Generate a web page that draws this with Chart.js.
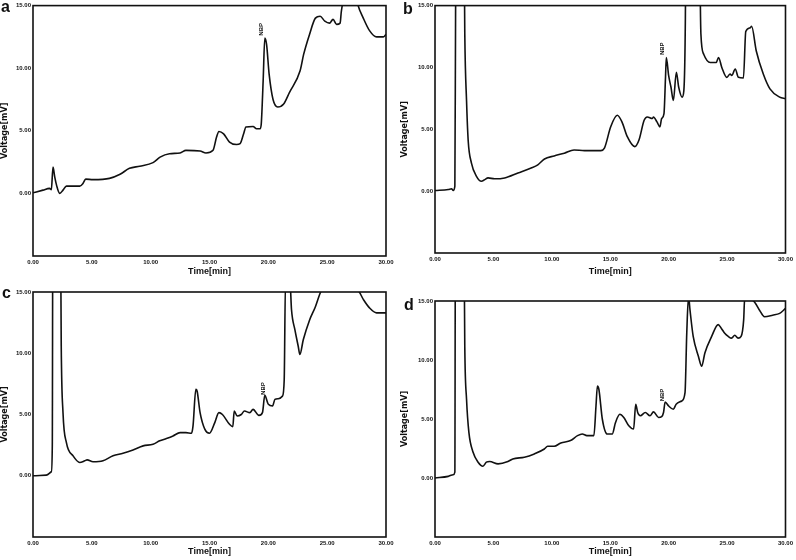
<!DOCTYPE html>
<html>
<head>
<meta charset="utf-8">
<script src="https://cdn.jsdelivr.net/npm/chart.js@4.4.1/dist/chart.umd.min.js"></script>
<style>
html,body{margin:0;padding:0;background:#fff;}
#wrap{position:relative;width:796px;height:560px;overflow:hidden;}
canvas{position:absolute;}
</style>
</head>
<body>
<div id="wrap">
<canvas id="ca" width="398" height="280" style="left:0;top:0"></canvas>
<canvas id="cb" width="398" height="280" style="left:398px;top:0"></canvas>
<canvas id="cc" width="398" height="280" style="left:0;top:280px"></canvas>
<canvas id="cd" width="398" height="280" style="left:398px;top:280px"></canvas>
</div>
<script>
// ---- data ----
const panelLetters = ["a", "b", "c", "d"];
const xTickValues = [0, 5, 10, 15, 20, 25, 30];
const yTickValues = [0, 5, 10, 15];
const xTitle = "Time[min]";
const yTitle = "Voltage[mV]";
const peakLabel = "NBP";

const timeA = [0,0.85,1.4,1.56,1.7,1.85,2.0,2.27,2.55,2.84,3.26,3.97,4.25,4.48,5.1,6.5,7.4,8.2,9.07,10.2,10.8,11.6,12.5,13.0,14.2,14.7,15.3,15.6,15.8,16.2,16.7,17.3,17.6,17.9,18.1,18.7,19.0,19.3,19.4,19.56,19.7,19.85,20.07,20.4,20.8,21.3,21.8,22.7,23.0,23.5,24.0,24.4,24.8,25.2,25.5,25.8,26.1,26.2,26.4,26.8,27.3,27.6,28.07,28.6,29.2,29.77,30];
const voltA = [0.05,0.26,0.4,0.3,2.1,1.3,0.66,0.0,0.26,0.58,0.58,0.58,0.8,1.14,1.1,1.2,1.53,2.0,2.17,2.46,2.9,3.17,3.23,3.44,3.39,3.23,3.44,4.5,4.95,4.76,4.1,3.9,3.97,4.76,5.3,5.34,5.16,5.16,5.56,9.0,12.4,11.9,9.5,7.5,6.9,7.14,8.07,9.8,11.1,12.7,14.0,14.15,13.76,13.6,13.9,13.5,13.6,14.5,15.6,17,16.5,15.1,14.0,13.0,12.5,12.5,12.7];

const timeB = [0,1.14,1.42,1.56,1.7,1.76,1.85,2.4,2.55,2.7,2.84,3.12,3.55,3.97,4.26,4.54,5.1,5.96,7.1,8.23,8.8,9.37,10.2,11.07,11.9,12.8,14.2,14.5,15.04,15.6,16.0,16.46,17.1,17.46,17.9,18.17,18.6,18.7,19.0,19.25,19.4,19.6,19.73,19.8,20.0,20.2,20.4,20.66,20.86,21.15,21.3,21.43,21.5,22.56,22.76,23.0,23.56,24.07,24.27,24.55,24.98,25.26,25.4,25.7,25.97,26.4,26.6,26.97,27.1,27.5,28.1,28.67,29.5,30];
const voltB = [0.05,0.13,0.19,0.05,0.4,14,30,30,12.7,7.3,4.1,2.27,1.2,0.8,0.93,1.07,1.0,1.07,1.47,1.87,2.13,2.6,2.85,3.07,3.33,3.28,3.28,3.47,5.2,6.13,5.6,4.4,3.6,4.13,5.73,6.0,5.87,6.0,5.6,5.2,5.87,6.27,9.2,10.8,9.33,8.4,7.33,9.6,8.4,7.6,8.13,14,25,25,12.7,11.07,10.4,10.4,10.8,10.0,9.2,9.47,9.35,9.87,9.2,9.15,12.9,13.2,13.33,11.33,9.47,8.27,7.6,7.47];

const timeC = [0,1.13,1.56,1.64,1.7,2.27,2.4,2.55,2.84,3.4,3.97,4.4,4.6,5.1,5.95,6.8,7.65,8.5,9.36,10.2,10.77,11.34,11.9,12.5,13.0,13.47,13.6,13.84,13.95,14.2,14.6,15.0,15.45,15.8,16.1,16.7,16.98,17.1,17.35,17.7,17.97,18.43,18.7,19.2,19.5,19.7,20.0,20.36,20.56,20.84,21.2,21.35,21.46,21.83,21.97,22.26,22.54,22.68,22.97,23.5,24.0,24.4,24.5,25.5,26.5,27.64,28.07,28.6,29.2,30];
const voltC = [0,0.05,0.33,2.4,30,30,10.6,5.15,2.7,1.63,1.08,1.22,1.3,1.14,1.22,1.63,1.84,2.11,2.44,2.57,2.85,3.04,3.25,3.52,3.52,3.47,4.07,7.05,6.9,5.15,3.8,3.47,4.34,5.15,5.0,4.2,4.0,5.28,4.88,5.0,5.28,5.15,5.42,4.93,5.15,6.56,5.83,5.7,6.23,6.29,6.5,7.86,16,16,13.55,11.9,10.57,9.9,11.1,12.7,13.8,14.9,15.1,15.6,15.4,15.1,14.4,13.7,13.3,13.3];

const timeD = [0,1.13,1.56,1.7,1.76,2.4,2.55,2.7,2.9,3.26,3.69,4.1,4.4,4.68,5.4,6.24,6.66,7.65,8.5,9.36,9.64,10.2,10.77,11.6,12.2,12.6,13.0,13.6,13.78,13.9,14.03,14.32,14.74,15.17,15.45,15.82,16.16,16.59,17.0,17.18,17.35,17.58,18.0,18.4,18.7,19.14,19.4,19.56,19.7,20.0,20.4,20.64,21.12,21.4,21.55,21.7,21.83,22.1,22.55,22.83,23.1,23.68,24.24,24.5,24.8,25.1,25.38,25.66,25.94,26.2,26.42,26.5,26.9,27.36,27.79,28.2,28.9,29.5,30];
const voltD = [0,0.14,0.28,0.5,30,30,11.1,6.67,3.87,2.18,1.34,1.0,1.34,1.4,1.2,1.4,1.62,1.76,2.04,2.46,2.69,2.69,2.97,3.17,3.59,3.73,3.59,3.59,6.1,7.8,7.5,5.0,3.73,3.73,4.7,5.4,5.13,4.43,4.15,6.25,5.55,5.27,5.55,5.27,5.6,5.13,5.2,5.55,6.44,6.1,5.83,6.25,6.53,7.23,12.3,15.4,14.2,12.0,10.3,9.47,10.6,12.0,13.0,12.7,12.27,12.0,11.85,12.1,11.85,12.0,13.4,15.1,15.2,14.9,14.2,13.67,13.8,13.95,14.37];

// NBP label anchor [time, voltage] (bottom end of the vertical text)
const nbpA = [19.42, 12.6];
const nbpB = [19.45, 11.0];
const nbpC = [19.55, 6.6];
const nbpD = [19.45, 6.5];

// ---- layout (chart area inside each 398x280 canvas) ----
const panels = [
  {id:"ca", t:timeA, v:voltA, nbp:nbpA, letter:panelLetters[0], area:{l:33,t:4,r:386,b:256}, letterPos:[1,12], yTitlePad:0},
  {id:"cb", t:timeB, v:voltB, nbp:nbpB, letter:panelLetters[1], area:{l:37,t:4,r:389,b:253}, letterPos:[5,14], yTitlePad:2},
  {id:"cc", t:timeC, v:voltC, nbp:nbpC, letter:panelLetters[2], area:{l:33,t:12,r:386,b:257}, letterPos:[2,18], yTitlePad:0},
  {id:"cd", t:timeD, v:voltD, nbp:nbpD, letter:panelLetters[3], area:{l:37,t:21,r:389,b:257}, letterPos:[6,30], yTitlePad:2}
];

const boxPlugin = {
  id: "box",
  afterDatasetsDraw(chart, args, opts) {
    const {ctx, chartArea: a, scales} = chart;
    ctx.save();
    ctx.strokeStyle = "#111";
    ctx.lineWidth = 1.6;
    ctx.strokeRect(a.left, a.top, a.right - a.left, a.bottom - a.top);
    // NBP label
    const px = scales.x.getPixelForValue(opts.nbp[0]);
    const py = scales.y.getPixelForValue(opts.nbp[1]);
    ctx.translate(px, py);
    ctx.rotate(-Math.PI / 2);
    ctx.fillStyle = "#111";
    ctx.font = "bold 6px 'Liberation Sans', Arial, sans-serif";
    ctx.textAlign = "left";
    ctx.textBaseline = "middle";
    ctx.fillText(peakLabel, 0, 0);
    ctx.restore();
    // panel letter
    ctx.save();
    ctx.fillStyle = "#111";
    ctx.font = "bold 16px 'Liberation Sans', Arial, sans-serif";
    ctx.textAlign = "left";
    ctx.textBaseline = "alphabetic";
    ctx.fillText(opts.letter, opts.letterPos[0], opts.letterPos[1]);
    ctx.restore();
  }
};

panels.forEach(p => {
  const W = 398, H = 280;
  const pts = p.t.map((x, i) => ({x: x, y: p.v[i]}));
  new Chart(document.getElementById(p.id), {
    type: "line",
    data: {
      datasets: [{
        data: pts,
        borderColor: "#111",
        borderWidth: 1.6,
        pointRadius: 0,
        fill: false,
        cubicInterpolationMode: "monotone"
      }]
    },
    options: {
      responsive: false,
      animation: false,
      events: [],
      layout: {padding: {left: 0, top: p.area.t, right: W - p.area.r, bottom: 0}},
      plugins: {
        legend: {display: false},
        tooltip: {enabled: false},
        box: {nbp: p.nbp, letter: p.letter, letterPos: p.letterPos}
      },
      scales: {
        x: {
          type: "linear", min: 0, max: 30,
          afterFit(s) { s.height = H - p.area.b; },
          afterBuildTicks(s) { s.ticks = xTickValues.map(v => ({value: v})); },
          grid: {display: false, drawTicks: false},
          border: {display: false},
          ticks: {
            autoSkip: false, maxRotation: 0, padding: 3, color: "#111",
            font: {family: "'Liberation Sans', Arial, sans-serif", size: 6, weight: "bold"},
            callback: v => Number(v).toFixed(2)
          },
          title: {
            display: true, text: xTitle, color: "#111",
            font: {family: "'Liberation Sans', Arial, sans-serif", size: 9, weight: "bold", lineHeight: 1.2},
            padding: {top: 0, bottom: 3}
          }
        },
        y: {
          type: "linear", min: -5, max: 15,
          afterFit(s) { s.width = p.area.l; },
          afterBuildTicks(s) { s.ticks = yTickValues.map(v => ({value: v})); },
          grid: {display: false, drawTicks: false},
          border: {display: false},
          ticks: {
            autoSkip: false, padding: 2, color: "#111",
            font: {family: "'Liberation Sans', Arial, sans-serif", size: 6, weight: "bold"},
            callback: v => Number(v).toFixed(2)
          },
          title: {
            display: true, text: yTitle, color: "#111",
            font: {family: "'DejaVu Sans', sans-serif", size: 8, weight: "bold", lineHeight: 1.2},
            padding: {top: p.yTitlePad, bottom: 0}
          }
        }
      }
    },
    plugins: [boxPlugin]
  });
});
</script>
</body>
</html>
